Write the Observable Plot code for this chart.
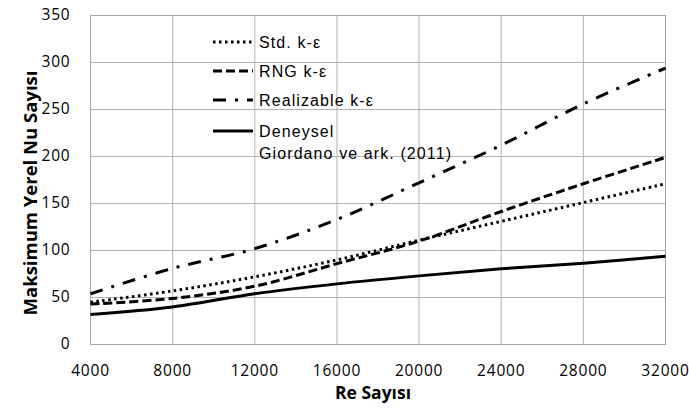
<!DOCTYPE html>
<html>
<head>
<meta charset="utf-8">
<script src="https://cdn.jsdelivr.net/npm/d3@7"></script>
<script src="https://cdn.jsdelivr.net/npm/@observablehq/plot@0.6"></script>
<style>
  html, body { margin: 0; padding: 0; background: #fff; }
</style>
</head>
<body>
<div id="chart"></div>
<script>
// ---- data ----
const re = [4000, 8000, 12000, 16000, 20000, 24000, 28000, 32000];
const stdKE = [45, 57, 72, 90, 111, 131, 151, 171];
const rngKE = [43, 49, 62, 86, 110, 141.5, 171, 199];
const realizableKE = [54, 81, 102, 133, 172, 212, 256, 294];
const deneysel = [32, 40, 54, 64.5, 73, 80.5, 86.5, 94];

const xTicks = [4000, 8000, 12000, 16000, 20000, 24000, 28000, 32000];
const yTicks = [0, 50, 100, 150, 200, 250, 300, 350];

const seriesNames = ["Std. k-ε", "RNG k-ε", "Realizable k-ε", "Deneysel"];
const seriesValues = [stdKE, rngKE, realizableKE, deneysel];
const legendExtra = "Giordano ve ark. (2011)";
const xTitle = "Re Sayısı";
const yTitle = "Maksimum Yerel Nu Sayısı";

// ---- styles ----
const dashes = ["2.5,3.5", "9,4", "13,9,3,9", null];

const lineMarks = seriesValues.map((vals, i) =>
  Plot.line(re.map((r, j) => ({re: r, v: vals[j]})), {
    x: "re", y: "v",
    stroke: "#000", strokeWidth: 3,
    strokeDasharray: dashes[i] || undefined,
    strokeLinecap: "butt",
    curve: "catmull-rom"
  })
);

const chart = Plot.plot({
  width: 689, height: 411,
  marginLeft: 90, marginRight: 24, marginTop: 15, marginBottom: 67,
  style: {fontFamily: "Open Sans, sans-serif", fontSize: "15.5px", color: "#000", background: "#fff", letterSpacing: "0.8px"},
  x: {domain: [4000, 32000]},
  y: {domain: [0, 350]},
  marks: [
    Plot.gridX(xTicks, {stroke: "#b3b3b3", strokeOpacity: 1}),
    Plot.gridY(yTicks, {stroke: "#b3b3b3", strokeOpacity: 1}),
    Plot.frame({stroke: "#a6a6a6"}),
    Plot.axisX(xTicks, {tickSize: 0, tickPadding: 20, label: null, tickFormat: d => String(d)}),
    Plot.axisY(yTicks, {tickSize: 0, tickPadding: 20, label: null, tickFormat: d => String(d)}),
    Plot.text([xTitle], {text: d => d, frameAnchor: "bottom", textAnchor: "middle", lineAnchor: "middle", dx: -5, dy: 49, fontWeight: "bold", fontSize: 17.5}),
    Plot.text([yTitle], {text: d => d, frameAnchor: "left", textAnchor: "middle", lineAnchor: "middle", dx: -59, dy: 13, rotate: -90, fontWeight: "bold", fontSize: 18.5}),
    ...lineMarks
  ]
});

// titles without extra letter spacing
d3.select(chart).selectAll("text")
  .filter(function () { return this.textContent === xTitle || this.textContent === yTitle; })
  .attr("letter-spacing", "0px");

// ---- legend (inside plot area, top-left) ----
const svg = d3.select(chart);
const lg = svg.append("g")
  .attr("font-family", "Liberation Sans, Arial, sans-serif")
  .attr("font-size", 16)
  .attr("letter-spacing", "1.1px")
  .attr("text-anchor", "start")
  .attr("fill", "#000");
const rowY = [42, 71, 100, 131];
seriesNames.forEach((name, i) => {
  const y = rowY[i];
  const ln = lg.append("line")
    .attr("x1", 213).attr("x2", 253).attr("y1", y).attr("y2", y)
    .attr("stroke", "#000").attr("stroke-width", 3).attr("stroke-linecap", "butt");
  if (dashes[i]) ln.attr("stroke-dasharray", dashes[i]);
  lg.append("text").attr("x", 259).attr("y", y).attr("dy", "0.35em").text(name);
});
lg.append("text").attr("x", 259).attr("y", 153).attr("dy", "0.35em").text(legendExtra);

document.getElementById("chart").appendChild(chart);
</script>
</body>
</html>
